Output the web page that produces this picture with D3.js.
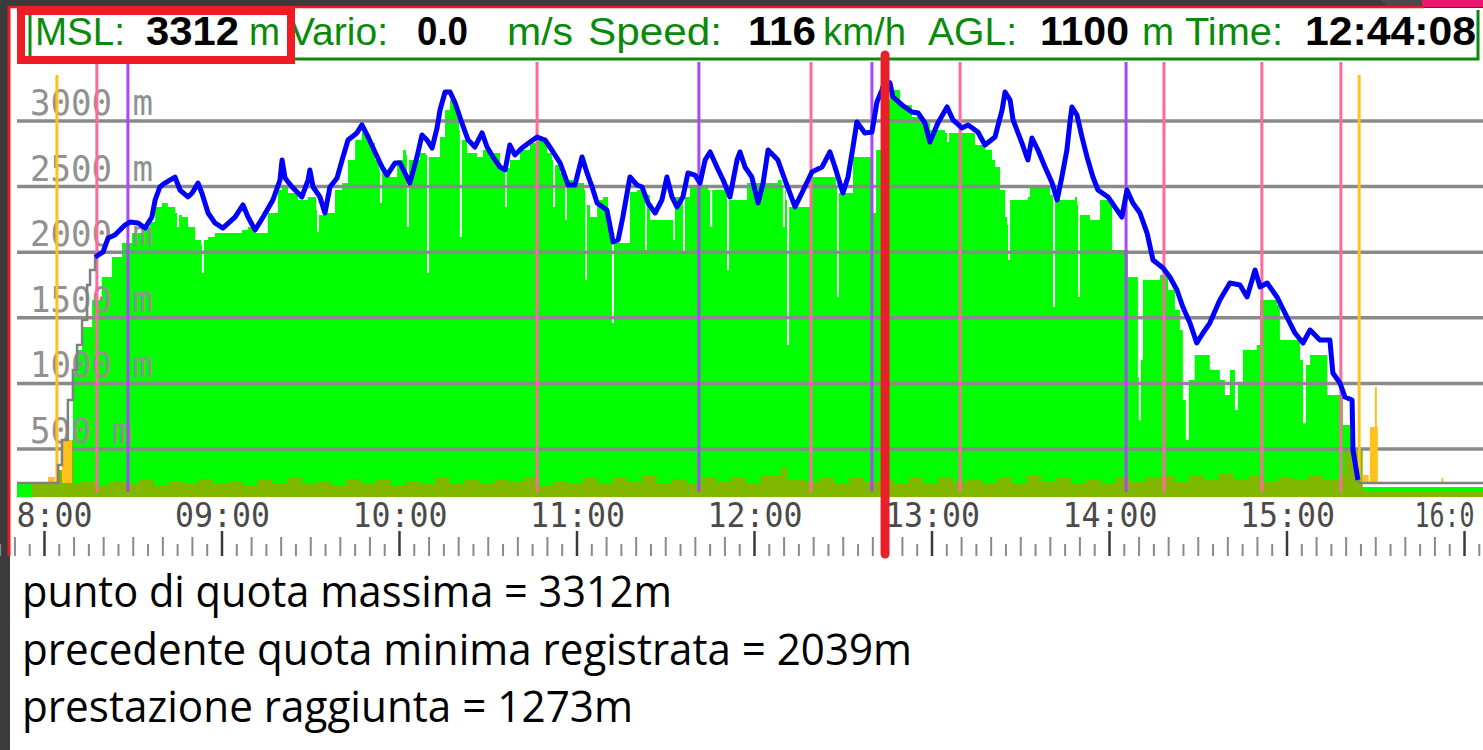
<!DOCTYPE html>
<html>
<head>
<meta charset="utf-8">
<script src="https://cdn.jsdelivr.net/npm/d3@7"></script>
<style>
html, body { margin: 0; padding: 0; background: #3b3b3b; overflow: hidden; }
svg { display: block; }
</style>
</head>
<body>
<svg id="chart" width="1483" height="750"></svg>
<script>
// times are minutes after 08:00, altitudes in metres (MSL)

const flightTrack = [
	[17.1,1963],[19.8,2002],[21.5,2108],[23.8,2131],[27.2,2207],[28.9,2230],[31.6,2223],[34.0,2184],
	[36.3,2268],[37.4,2398],[39.0,2497],[40.7,2527],[42.4,2550],[44.1,2573],[45.8,2474],[48.5,2421],
	[49.9,2451],[51.9,2527],[53.2,2451],[55.3,2299],[57.6,2223],[60.3,2184],[64.4,2268],[67.1,2360],
	[68.8,2268],[71.2,2169],[73.9,2268],[77.2,2398],[79.6,2550],[80.3,2703],[81.3,2566],[83.7,2497],
	[87.0,2421],[89.1,2550],[89.7,2627],[90.8,2497],[93.1,2421],[94.8,2299],[96.5,2497],[98.9,2566],
	[100.6,2703],[102.6,2855],[105.6,2909],[107.3,2970],[109.4,2878],[111.7,2764],[114.1,2649],[115.8,2588],
	[118.5,2680],[120.2,2680],[123.5,2527],[125.9,2726],[127.6,2893],[129.3,2855],[131.0,2794],[132.7,2947],
	[133.7,3084],[135.4,3221],[137.1,3221],[138.8,3137],[141.1,2985],[143.2,2855],[145.5,2802],[147.9,2909],
	[149.6,2802],[151.6,2726],[154.0,2649],[155.7,2627],[157.3,2817],[159.0,2741],[161.4,2794],[164.1,2840],
	[166.5,2878],[169.2,2855],[171.5,2779],[174.3,2680],[177.0,2512],[179.3,2512],[181.7,2726],[183.4,2604],
	[185.1,2497],[186.8,2375],[190.1,2322],[192.2,2078],[193.9,2093],[195.5,2268],[197.9,2573],[200.3,2512],
	[202.0,2497],[204.0,2375],[206.4,2299],[208.7,2398],[210.4,2573],[212.1,2421],[213.8,2345],[215.8,2421],
	[217.5,2604],[219.9,2588],[221.6,2527],[223.3,2703],[225.0,2764],[227.3,2649],[229.4,2550],[231.7,2421],
	[234.1,2703],[235.1,2764],[236.8,2649],[239.1,2573],[241.2,2375],[242.9,2527],[244.6,2779],[247.9,2703],
	[250.3,2550],[253.7,2345],[256.0,2451],[259.4,2611],[262.8,2649],[265.5,2764],[267.2,2649],[269.9,2451],
	[271.6,2573],[273.3,2802],[274.6,2992],[277.3,2909],[279.7,2916],[281.4,3145],[283.1,3236],[284.1,3312],
	[285.8,3290],[286.8,3183],[289.9,3122],[293.2,3069],[295.3,3061],[297.6,2985],[299.3,2840],[302.0,2985],
	[305.1,3107],[307.1,3008],[310.1,2947],[312.2,2970],[315.5,2916],[317.9,2817],[321.3,2878],[323.7,3084],
	[324.7,3221],[326.4,3160],[327.4,3008],[330.4,2832],[332.4,2703],[333.8,2870],[335.8,2779],[338.2,2649],
	[340.6,2527],[342.3,2398],[343.9,2573],[345.6,2779],[346.6,2985],[347.3,3107],[349.0,3046],[350.7,2878],
	[352.4,2726],[354.4,2573],[356.1,2474],[359.5,2421],[361.8,2345],[364.2,2268],[365.9,2474],[367.9,2375],
	[370.3,2299],[372.7,2146],[374.7,1941],[378.1,1880],[380.4,1811],[382.8,1712],[384.8,1582],[387.2,1460],
	[389.5,1308],[391.6,1384],[393.9,1460],[397.3,1636],[400.7,1765],[404.1,1750],[406.5,1659],[409.2,1864],
	[410.9,1735],[413.3,1765],[416.6,1659],[420.0,1506],[422.7,1384],[425.4,1308],[427.8,1407],[431.1,1331],
	[434.5,1331],[435.5,1079],[437.9,1003],[439.6,896],[442.0,873],[442.3,492],[444.0,264]
];

// ground track before take-off and after landing (grey)
const preFlight = [
	[-9.3,241],[4.2,241],[4.6,378],[5.9,569],[7.9,873],[9.6,1102],[11.0,1293],[12.7,1483],
	[14.4,1750],[15.4,1864],[17.1,1979]
];
const postFlight = [[444.0,264],[444.7,241],[490,241]];

// terrain under the track (green)
const terrain = [
	[-9.3,241],[-4.2,241],[-4.0,134],[8.6,134],[9.0,569],[9.6,1079],[11.3,1254],[12.7,1430],[16.1,1636],
	[19.4,1811],[22.8,1963],[26.2,2070],[29.6,2146],[33.0,2192],[35.7,2230],[37.4,2345],[39.7,2375],
	[41.7,2345],[44.1,2299],[44.8,2192],[45.5,2284],[46.5,2268],[48.5,2192],[50.9,2093],[52.9,2055],
	[53.2,1841],[53.9,2093],[55.3,2116],[57.6,2146],[62.0,2146],[66.8,2169],[68.8,2192],[71.2,2146],
	[75.5,2299],[78.9,2474],[80.3,2497],[82.3,2451],[85.7,2398],[89.1,2421],[91.8,2322],[92.1,2154],
	[92.8,2284],[94.8,2299],[98.2,2474],[100.6,2527],[102.6,2703],[105.0,2855],[107.3,2916],[109.4,2832],
	[111.7,2703],[113.1,2626],[113.4,2375],[114.1,2611],[116.1,2604],[116.8,2573],[119.2,2703],[121.2,2779],
	[122.2,2741],[122.5,2192],[123.2,2703],[124.6,2703],[126.9,2756],[128.9,2741],[129.3,1841],[130.0,2726],
	[131.3,2726],[133.7,2878],[135.4,3084],[137.1,3160],[139.4,3030],[140.1,2931],[140.4,2116],[141.1,2855],
	[142.8,2756],[146.2,2726],[148.2,2779],[150.6,2756],[154.0,2627],[155.3,2611],[155.7,2345],[156.3,2642],
	[157.3,2703],[160.7,2779],[164.1,2832],[166.5,2855],[169.9,2756],[171.5,2703],[171.9,2345],[172.6,2665],
	[174.3,2604],[175.6,2566],[176.0,2245],[176.6,2550],[178.7,2527],[181.0,2527],[182.4,2474],[182.8,1788],
	[183.4,2360],[184.4,2268],[186.8,2398],[188.8,2421],[190.5,2207],[191.2,2093],[191.8,1460],[192.5,2070],
	[194.5,2070],[197.2,2070],[197.9,2459],[200.3,2474],[202.6,2436],[203.0,2017],[203.6,2436],[204.7,2245],
	[211.5,2245],[212.5,2093],[213.1,2421],[215.5,2421],[215.8,2002],[216.5,2421],[218.2,2497],[221.6,2497],
	[224.3,2474],[225.0,2192],[225.7,2474],[229.4,2474],[230.4,2436],[230.7,1864],[231.4,2398],[236.1,2398],
	[237.5,2527],[245.2,2527],[247.9,2550],[249.2,2512],[249.6,2192],[250.3,2474],[250.6,2398],[251.0,1293],
	[251.7,2345],[258.1,2345],[259.4,2573],[266.2,2573],[267.5,2512],[267.9,1659],[268.5,2451],[273.0,2451],
	[273.3,2726],[279.7,2726],[280.1,2299],[281.1,2779],[283.1,3160],[285.8,3236],[289.2,3122],[293.2,3030],
	[295.9,2985],[299.3,2931],[304.4,2909],[305.1,2840],[305.8,2909],[311.2,2909],[314.5,2817],[317.9,2779],
	[320.3,2703],[321.3,2649],[323.0,2474],[324.7,2268],[325.4,2207],[325.7,1940],[326.4,2398],[332.4,2421],
	[333.1,2497],[338.2,2497],[339.9,2436],[340.9,1582],[341.6,2398],[348.3,2421],[349.0,2360],[349.4,1659],
	[350.0,2284],[353.4,2245],[356.1,2245],[356.8,2398],[360.5,2398],[360.9,2017],[365.2,2017],[366.2,1811],
	[368.9,1811],[369.6,1048],[369.9,720],[370.6,1178],[371.3,1788],[373.7,1788],[377.1,1826],[379.8,1712],
	[382.1,1559],[383.8,1407],[384.8,873],[385.8,569],[386.8,1026],[388.8,1216],[392.9,1216],[393.9,1102],
	[397.3,1026],[399.0,911],[400.7,1102],[402.4,797],[403.4,987],[405.1,1254],[409.8,1292],[410.9,1636],
	[416.6,1597],[417.6,1330],[421.0,1330],[424.4,1178],[425.4,697],[426.4,1140],[427.8,1216],[432.2,1216],
	[433.6,911],[437.9,911],[438.9,682],[441.3,644],[442.0,416],[443.7,416],[444.7,210],[490,210]
];

// bottom band (olive)
const lowBand = [
	[-4.2,233],[3.9,233],[4.2,340],[5.9,492],[7.6,569],[9.3,569],[9.8,233],
	[12,248],[17,226],[22,256],[27,233],[32,264],[37,226],[42,248],[47,233],[52,271],[57,233],
	[62,256],[67,226],[72,264],[77,241],[82,279],[87,233],[92,256],[97,226],[102,271],[107,241],
	[112,264],[117,226],[122,256],[127,233],[132,279],[137,241],[142,264],[147,233],[152,271],[157,248],
	[162,279],[167,226],[172,256],[177,233],[182,287],[187,241],[192,279],[197,248],[202,294],[207,241],
	[212,271],[217,233],[222,287],[227,248],[232,279],[237,233],[242,294],[249,363],[251,264],[257,248],
	[262,279],[267,233],[272,287],[277,248],[282,271],[287,233],[292,279],[297,241],[302,287],[307,248],
	[312,271],[317,233],[322,279],[327,241],[332,294],[337,248],[342,279],[347,233],[352,271],[357,241],
	[362,287],[367,248],[372,279],[377,294],[382,248],[387,302],[392,264],[397,309],[402,271],[407,294],
	[412,248],[417,287],[422,264],[427,302],[432,264],[438,300],[439.5,492],[445,492],[445.6,172],[490,172]
];

// event markers
const pinkEvents = [17.7, 166.5, 259.1, 309.5, 378.4, 411.5, 438.2];
const purpleEvents = [28.2, 221.2, 279.7, 365.6];
const orangeEvents = [4.2, 444.4];
const orangeBars = [[1.2,3.5,287],[5.9,9.3,569],[445.4,447.6,302],[448.0,450.7,668],[449.7,450.3,973],[472.2,472.6,279]];
const groundAlt = 241;

const cursorMin = 284.13; // 12:44:08

const altTicks = [500, 1000, 1500, 2000, 2500, 3000];
const hourTicks = [0, 60, 120, 180, 240, 300, 360, 420, 480];
const hourLabels = ['8:00', '09:00', '10:00', '11:00', '12:00', '13:00', '14:00', '15:00', '16:0'];

const readout = { msl: '3312', vario: '0.0', speed: '116', agl: '1100', time: '12:44:08' };
const maxAlt = 3312, prevMinAlt = 2039, gainAlt = 1273;

// ---------------------------------------------------------------
const W = 1483, H = 750;
const plot = { left: 17, right: 1483, top: 62, bottom: 497 };

const svg = d3.select('#chart');

const x = d3.scaleLinear().domain([0, 480]).range([44.5, 1464.5]);
const y = d3.scaleLinear().domain([0, 3000]).range([514.6, 121]);

// frame
svg.append('rect').attr('width', W).attr('height', H).attr('fill', '#3b3b3b');
svg.append('rect').attr('x', 10).attr('y', 8).attr('width', W - 10).attr('height', H - 8).attr('fill', '#fff');
svg.append('polygon').attr('points', '1380,0 1424,0 1418,7 1388,7').attr('fill', '#4a4a4a');
svg.append('rect').attr('x', 1422).attr('y', 0).attr('width', 61).attr('height', 7).attr('fill', '#ea1670');
svg.append('line').attr('x1', 8).attr('x2', 1424).attr('y1', 7).attr('y2', 7)
	.attr('stroke', '#e41b23').attr('stroke-width', 2.5);
svg.append('line').attr('x1', 9).attr('x2', 9).attr('y1', 6).attr('y2', 556)
	.attr('stroke', '#e41b23').attr('stroke-width', 3);

svg.append('clipPath').attr('id', 'plotClip').append('rect')
	.attr('x', plot.left).attr('y', plot.top)
	.attr('width', plot.right - plot.left).attr('height', plot.bottom - plot.top);

const g = svg.append('g').attr('clip-path', 'url(#plotClip)');

const area = d3.area()
	.x(d => x(d[0]))
	.y0(plot.bottom)
	.y1(d => y(d[1]))
	.curve(d3.curveStepAfter);

g.append('path').datum(terrain).attr('d', area).attr('fill', '#00ff00');
g.append('path').datum(lowBand).attr('d', area).attr('fill', '#80b800');

// grid
g.selectAll('.grid').data(altTicks).enter().append('line')
	.attr('x1', plot.left).attr('x2', plot.right)
	.attr('y1', d => y(d)).attr('y2', d => y(d))
	.attr('stroke', '#8a8a8a').attr('stroke-width', 3.5);

g.selectAll('.ylab').data(altTicks).enter().append('text')
	.attr('x', 30).attr('y', d => y(d) - 6)
	.attr('font-family', 'DejaVu Sans Mono').attr('font-size', 36)
	.attr('fill', '#919191')
	.attr('textLength', d => (d + ' m').length * 20.5)
	.attr('lengthAdjust', 'spacingAndGlyphs')
	.text(d => d + ' m');

// event lines
function eventLines(data, color, y1, y2) {
	g.selectAll(null).data(data).enter().append('line')
		.attr('x1', d => x(d)).attr('x2', d => x(d))
		.attr('y1', y1).attr('y2', y2)
		.attr('stroke', color).attr('stroke-width', 3);
}
eventLines(pinkEvents, '#ff6a9e', plot.top, 492);
eventLines(purpleEvents, '#a848f8', plot.top, 492);
eventLines(orangeEvents, '#ffc21a', 75, 482);

g.selectAll('.obar').data(orangeBars).enter().append('rect')
	.attr('x', d => x(d[0]))
	.attr('width', d => Math.max(2, x(d[1]) - x(d[0])))
	.attr('y', d => y(d[2]))
	.attr('height', d => y(groundAlt) - y(d[2]))
	.attr('fill', '#ffc21a');

const line = d3.line().x(d => x(d[0])).y(d => y(d[1]));

g.append('path').datum(preFlight).attr('d', line.curve(d3.curveStepAfter))
	.attr('fill', 'none').attr('stroke', '#808080').attr('stroke-width', 2.5);
g.append('path').datum(postFlight).attr('d', line.curve(d3.curveLinear))
	.attr('fill', 'none').attr('stroke', '#808080').attr('stroke-width', 2.5);
g.append('path').datum(flightTrack).attr('d', line.curve(d3.curveLinear))
	.attr('fill', 'none').attr('stroke', '#0000ff').attr('stroke-width', 5)
	.attr('stroke-linejoin', 'round');

// time axis
const axis = svg.append('g');

// labels sit right-aligned just past their hour tick; the last one is squeezed in at the edge
const lastTick = hourTicks.length - 1;
axis.selectAll('.xlab').data(hourTicks).enter().append('text')
	.attr('x', (d, i) => i === lastTick ? x(d) - 50 : x(d) + 48 - hourLabels[i].length * 19)
	.attr('y', 527)
	.attr('font-family', 'DejaVu Sans Mono').attr('font-size', 34)
	.attr('fill', '#4a4a4a')
	.attr('textLength', (d, i) => i === lastTick ? 60 : hourLabels[i].length * 19)
	.attr('lengthAdjust', 'spacingAndGlyphs')
	.text((d, i) => hourLabels[i]);

const minorTicks = d3.range(-15, 495, 5);
axis.selectAll('.tick').data(minorTicks).enter().append('line')
	.attr('x1', d => x(d)).attr('x2', d => x(d))
	.attr('y1', d => d % 60 === 0 ? 531 : (d % 10 === 0 ? 537 : 544))
	.attr('y2', 556)
	.attr('stroke', d => d % 60 === 0 ? '#3a3a3a' : '#8a8a8a')
	.attr('stroke-width', d => d % 60 === 0 ? 2.5 : 2);

// header readout
svg.append('path').attr('d', 'M30,10V59H1478V10')
	.attr('fill', 'none').attr('stroke', '#0a8a0a').attr('stroke-width', 3);

const green = '#0a8a0a';
const headerParts = [
	{ t: 'MSL:', x: 35, w: 90 },
	{ t: readout.msl, x: 146, w: 93, bold: true },
	{ t: 'm', x: 249, w: 31 },
	{ t: 'Vario:', x: 289, w: 99 },
	{ t: readout.vario, x: 417, w: 51, bold: true },
	{ t: 'm/s', x: 507, w: 66 },
	{ t: 'Speed:', x: 588, w: 134 },
	{ t: readout.speed, x: 748, w: 68, bold: true },
	{ t: 'km/h', x: 823, w: 83 },
	{ t: 'AGL:', x: 928, w: 89 },
	{ t: readout.agl, x: 1040, w: 89, bold: true },
	{ t: 'm', x: 1142, w: 32 },
	{ t: 'Time:', x: 1185, w: 98 },
	{ t: readout.time, x: 1305, w: 171, bold: true }
];
svg.selectAll('.hdr').data(headerParts).enter().append('text')
	.attr('x', d => d.x).attr('y', 45)
	.attr('font-family', 'Liberation Sans, Arial, sans-serif')
	.attr('font-size', d => d.bold ? 40 : 38)
	.attr('font-weight', d => d.bold ? 'bold' : 'normal')
	.attr('fill', d => d.bold ? '#000' : green)
	.attr('textLength', d => d.w)
	.attr('lengthAdjust', 'spacingAndGlyphs')
	.text(d => d.t);

// highlight box round MSL
svg.append('rect').attr('x', 21).attr('y', 11).attr('width', 270).attr('height', 49)
	.attr('fill', 'none').attr('stroke', '#ee1c25').attr('stroke-width', 8);

// cursor
svg.append('line').attr('x1', x(cursorMin)).attr('x2', x(cursorMin))
	.attr('y1', 55).attr('y2', 554)
	.attr('stroke', '#e8202a').attr('stroke-width', 9).attr('stroke-linecap', 'round');

// notes
const notes = [
	{ t: `punto di quota massima = ${maxAlt}m`, y: 607, w: 650 },
	{ t: `precedente quota minima registrata = ${prevMinAlt}m`, y: 665, w: 890 },
	{ t: `prestazione raggiunta = ${gainAlt}m`, y: 722, w: 611 }
];
svg.selectAll('.note').data(notes).enter().append('text')
	.attr('x', 22).attr('y', d => d.y)
	.attr('font-family', 'Open Sans, sans-serif').attr('font-size', 43)
	.attr('fill', '#000')
	.attr('textLength', d => d.w)
	.attr('lengthAdjust', 'spacingAndGlyphs')
	.text(d => d.t);
</script>
</body>
</html>
